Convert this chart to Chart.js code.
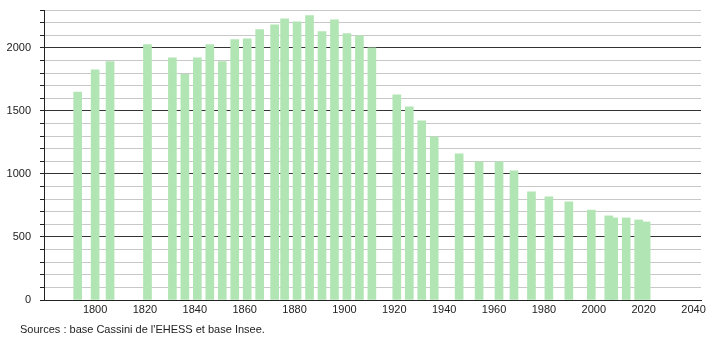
<!DOCTYPE html>
<html>
<head>
<meta charset="utf-8">
<script src="https://cdn.jsdelivr.net/npm/chart.js@4/dist/chart.umd.min.js"></script>
<style>
  html, body { margin: 0; padding: 0; background: #fff; }
  #wrap { width: 710px; height: 340px; position: relative; }
</style>
</head>
<body>
<div id="wrap"><canvas id="popChart" width="710" height="340"></canvas></div>
<script>
// census years and population
const years = [1793, 1800, 1806, 1821, 1831, 1836, 1841, 1846, 1851, 1856, 1861, 1866,
  1872, 1876, 1881, 1886, 1891, 1896, 1901, 1906, 1911, 1921, 1926, 1931, 1936,
  1946, 1954, 1962, 1968, 1975, 1982, 1990, 1999, 2006, 2008, 2013, 2018, 2021];
const population = [1650, 1825, 1890, 2025, 1920, 1790, 1920, 2025, 1890, 2065, 2072, 2144,
  2183, 2230, 2207, 2255, 2128, 2222, 2112, 2095, 2000, 1628, 1532, 1421, 1294,
  1159, 1096, 1096, 1024, 857, 818, 778, 714, 667, 651, 651, 635, 619];
const xTickYears = [1800, 1820, 1840, 1860, 1880, 1900, 1920, 1940, 1960, 1980, 2000, 2020, 2040];
const yTickLabels = [0, 500, 1000, 1500, 2000];
const sourceText = "Sources : base Cassini de l'EHESS et base Insee.";

const points = years.map((y, i) => ({ x: y, y: population[i] }));

const sourcePlugin = {
  id: 'sourceText',
  afterDraw(chart) {
    const ctx = chart.ctx;
    ctx.save();
    ctx.font = '11px "Liberation Sans", Arial, sans-serif';
    ctx.fillStyle = '#222';
    ctx.textBaseline = 'middle';
    ctx.fillText(sourceText, 20, 330);
    ctx.restore();
  }
};

const ctx = document.getElementById('popChart').getContext('2d');
new Chart(ctx, {
  type: 'bar',
  data: {
    datasets: [{
      data: points,
      backgroundColor: '#b2e5b4',
      borderWidth: 0,
      barThickness: 8
    }]
  },
  options: {
    responsive: false,
    animation: false,
    layout: { padding: { left: 0, right: 9, top: 10, bottom: 0 } },
    plugins: { legend: { display: false }, tooltip: { enabled: false } },
    scales: {
      x: {
        type: 'linear',
        offset: false,
        min: 1779.5,
        max: 2043,
        grid: { display: false, drawTicks: false, tickLength: 0 },
        border: { display: true, color: '#222', width: 1 },
        afterBuildTicks: (scale) => {
          scale.ticks = xTickYears.map(v => ({ value: v }));
        },
        afterFit: (scale) => { scale.height = 40; },
        ticks: {
          padding: 3,
          maxRotation: 0,
          autoSkip: false,
          color: '#222',
          font: { family: '"Liberation Sans", Arial, sans-serif', size: 11 },
          callback: (v) => String(v)
        }
      },
      y: {
        min: 0,
        max: 2300,
        afterFit: (scale) => {
          scale.width = 44;
          scale.paddingTop = 0;
          scale.paddingBottom = 0;
        },
        border: { display: true, color: '#222', width: 1 },
        grid: {
          color: (c) => (c.tick && c.tick.value % 500 === 0) ? '#333' : '#c8c8c8',
          tickColor: '#222',
          tickLength: 4,
          lineWidth: 1
        },
        ticks: {
          stepSize: 100,
          padding: 9,
          autoSkip: false,
          color: '#222',
          font: { family: '"Liberation Sans", Arial, sans-serif', size: 11 },
          callback: (v) => yTickLabels.includes(v) ? String(v) : ''
        }
      }
    }
  },
  plugins: [sourcePlugin]
});
</script>
</body>
</html>
